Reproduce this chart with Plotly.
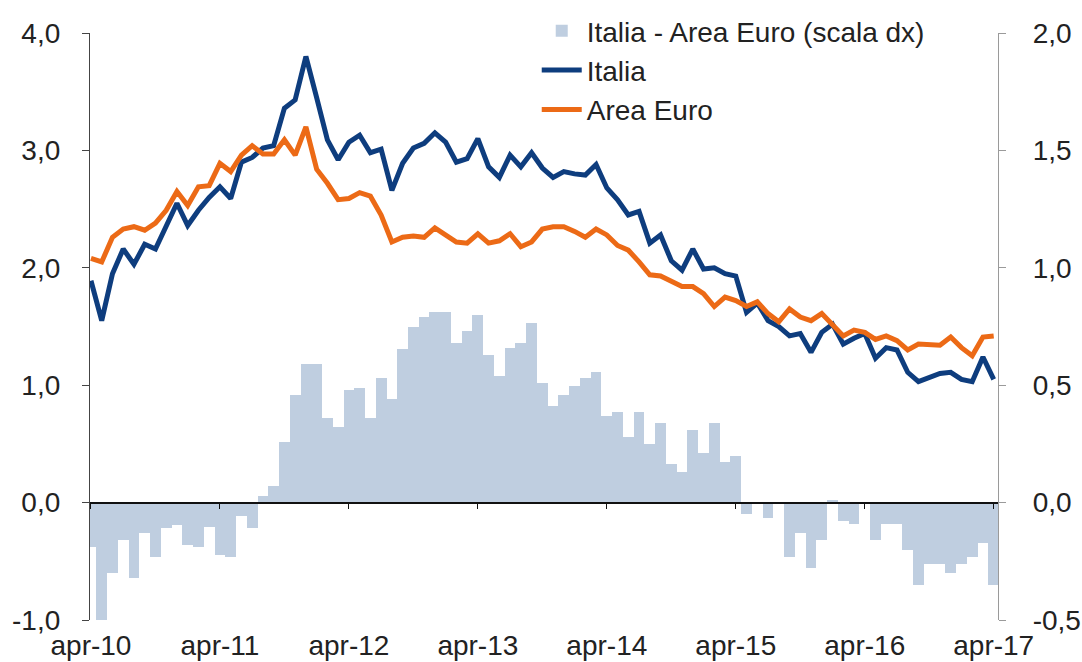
import plotly.graph_objects as go

# ---- data (monthly, apr-10 .. apr-17) ----
months = list(range(85))
year_ticks = [0, 12, 24, 36, 48, 60, 72, 84]
year_labels = ["apr-10", "apr-11", "apr-12", "apr-13", "apr-14", "apr-15", "apr-16", "apr-17"]

italia = [1.89, 1.55, 1.95, 2.16, 2.03, 2.20, 2.16, 2.35, 2.55, 2.36, 2.49, 2.60,
          2.69, 2.59, 2.90, 2.94, 3.02, 3.04, 3.36, 3.43, 3.80, 3.45, 3.09, 2.92,
          3.07, 3.13, 2.98, 3.01, 2.66, 2.89, 3.02, 3.06, 3.15, 3.07, 2.90, 2.93,
          3.10, 2.86, 2.77, 2.96, 2.86, 2.98, 2.85, 2.77, 2.82, 2.80, 2.79, 2.88,
          2.68, 2.58, 2.45, 2.48, 2.21, 2.28, 2.06, 1.98, 2.16, 1.99, 2.00, 1.95,
          1.93, 1.62, 1.70, 1.55, 1.50, 1.42, 1.44, 1.28, 1.45, 1.52, 1.35, 1.40,
          1.44, 1.23, 1.32, 1.30, 1.11, 1.03, 1.07, 1.10, 1.11, 1.05, 1.03, 1.24,
          1.05]

area_euro = [2.08, 2.05, 2.26, 2.33, 2.35, 2.32, 2.38, 2.49, 2.65, 2.53, 2.69, 2.70,
             2.89, 2.82, 2.96, 3.04, 2.97, 2.97, 3.09, 2.96, 3.20, 2.84, 2.72, 2.58,
             2.59, 2.64, 2.61, 2.45, 2.22, 2.26, 2.27, 2.26, 2.34, 2.28, 2.22, 2.21,
             2.29, 2.21, 2.23, 2.29, 2.18, 2.22, 2.33, 2.35, 2.35, 2.31, 2.26, 2.33,
             2.28, 2.19, 2.15, 2.05, 1.94, 1.93, 1.88, 1.84, 1.84, 1.78, 1.67, 1.75,
             1.72, 1.67, 1.71, 1.61, 1.54, 1.65, 1.58, 1.55, 1.61, 1.52, 1.42, 1.47,
             1.45, 1.39, 1.42, 1.38, 1.30, 1.35, 1.34, 1.34, 1.41, 1.32, 1.25, 1.41,
             1.42]

spread = [-0.19, -0.50, -0.30, -0.16, -0.32, -0.13, -0.23, -0.11, -0.095, -0.18, -0.19, -0.105,
          -0.225, -0.23, -0.055, -0.11, 0.03, 0.07, 0.26, 0.46, 0.59, 0.59, 0.36, 0.32,
          0.48, 0.49, 0.36, 0.53, 0.44, 0.655, 0.75, 0.79, 0.81, 0.81, 0.68, 0.73,
          0.80, 0.63, 0.54, 0.66, 0.68, 0.765, 0.51, 0.41, 0.46, 0.495, 0.53, 0.555,
          0.37, 0.385, 0.28, 0.385, 0.25, 0.34, 0.165, 0.13, 0.31, 0.21, 0.34, 0.175,
          0.20, -0.05, 0.0, -0.065, 0.0, -0.23, -0.13, -0.28, -0.16, 0.01, -0.08, -0.09,
          0.0, -0.16, -0.09, -0.09, -0.20, -0.35, -0.26, -0.26, -0.30, -0.26, -0.23, -0.17,
          -0.35]

left_ticks = [-1, 0, 1, 2, 3, 4]
left_labels = ["-1,0", "0,0", "1,0", "2,0", "3,0", "4,0"]
right_ticks = [-0.5, 0, 0.5, 1.0, 1.5, 2.0]
right_labels = ["-0,5", "0,0", "0,5", "1,0", "1,5", "2,0"]

FONT = "Liberation Sans, Arial, sans-serif"
TXT = "#222222"
FS = 28

fig = go.Figure()
fig.add_trace(go.Bar(x=months, y=spread, name="Italia - Area Euro (scala dx)",
                     marker=dict(color="#BFCEE0", line=dict(width=0)),
                     xaxis="x", yaxis="y"))
fig.add_trace(go.Scatter(x=months, y=italia, name="Italia", mode="lines",
                         line=dict(color="#0E3D7E", width=5),
                         xaxis="x", yaxis="y2"))
fig.add_trace(go.Scatter(x=months, y=area_euro, name="Area Euro", mode="lines",
                         line=dict(color="#EC6A16", width=5),
                         xaxis="x", yaxis="y2"))
# helper trace so the zero-level category axis is rendered
fig.add_trace(go.Scatter(x=[None], y=[None], xaxis="x2", yaxis="y",
                         showlegend=False, hoverinfo="skip"))

xr = [-0.09, 84.4]
fig.update_layout(
    width=1082, height=662,
    margin=dict(l=90, r=84, t=33, b=42, autoexpand=False),
    paper_bgcolor="white", plot_bgcolor="white",
    font=dict(family=FONT, size=FS, color=TXT),
    bargap=0,
    showlegend=True,
    legend=dict(x=0.492, y=1.046, xanchor="left", yanchor="top",
                bgcolor="rgba(0,0,0,0)", font=dict(size=FS, color=TXT),
                tracegroupgap=0, itemwidth=40),
    xaxis=dict(range=xr, tickvals=year_ticks, ticktext=year_labels,
               showline=False, ticks="", showgrid=False, zeroline=False,
               ticklabelstandoff=6, anchor="y", automargin=False),
    xaxis2=dict(range=xr, overlaying="x", anchor="free", position=0.2,
                tickvals=year_ticks, showticklabels=False, ticks="outside",
                ticklen=6, tickcolor="#111111", tickwidth=1.2,
                showline=True, linecolor="#111111", linewidth=1.5,
                showgrid=False, zeroline=False, automargin=False),
    yaxis=dict(range=[-0.5, 2.0], side="right", tickvals=right_ticks, ticktext=right_labels,
               showline=True, linecolor="#9a9a9a", linewidth=1.2,
               ticks="outside", ticklen=7, tickcolor="#9a9a9a",
               showgrid=False, zeroline=False, ticklabelstandoff=21, anchor="x",
               automargin=False),
    yaxis2=dict(range=[-1, 4], side="left", overlaying="y", anchor="x",
                tickvals=left_ticks, ticktext=left_labels,
                showline=True, linecolor="#444444", linewidth=1.3,
                ticks="outside", ticklen=7, tickcolor="#444444",
                showgrid=False, zeroline=False, ticklabelstandoff=16,
                automargin=False),
)

fig.write_html("out.html", config={"displayModeBar": False},
               post_script="document.body.style.margin='0px';document.body.style.overflow='hidden';")
